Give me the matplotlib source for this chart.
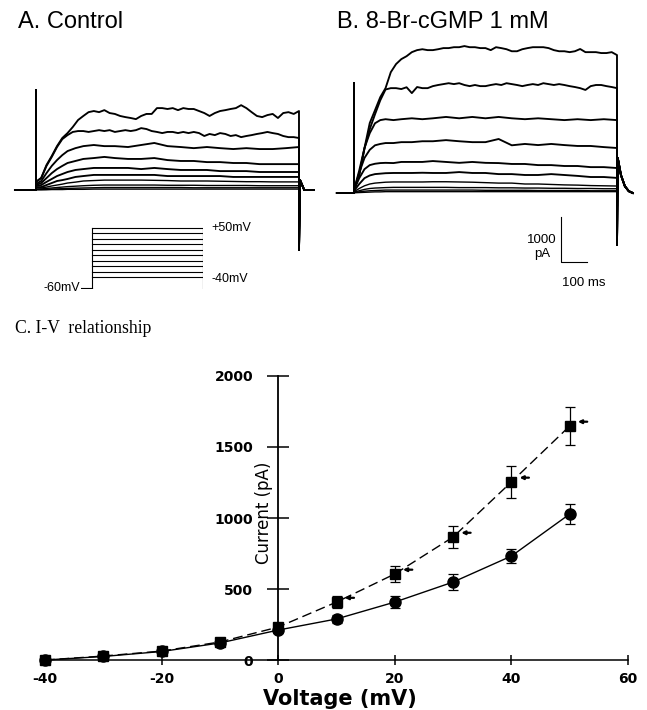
import matplotlib
matplotlib.use('Agg')
import matplotlib.pyplot as plt

plt.rcParams['axes.unicode_minus'] = False

# ---------------- data ----------------
# Current traces (pA) vs time (ms) during 1-s steps, read from panels A and B
T_FINE = list(range(0, 1001, 20))
T_COARSE = [0, 20, 40, 60, 80, 100, 120, 150, 180, 220, 260, 300, 350, 400,
            450, 500, 550, 600, 650, 700, 750, 800, 850, 900, 950, 1000]

ctrl_p50 = [180, 270, 555, 755, 975, 1155, 1265, 1400, 1555, 1645,
            1730, 1755, 1730, 1775, 1710, 1690, 1645, 1620, 1600, 1575,
            1645, 1690, 1690, 1820, 1820, 1800, 1820, 1775, 1820, 1800,
            1800, 1755, 1710, 1645, 1710, 1755, 1775, 1800, 1820, 1885,
            1820, 1730, 1645, 1620, 1665, 1690, 1600, 1710, 1730, 1690, 1755]
ctrl_p40 = [180, 265, 535, 735, 955, 1130, 1220, 1290, 1310, 1310,
            1290, 1310, 1330, 1310, 1330, 1290, 1310, 1330, 1310, 1330,
            1375, 1355, 1310, 1290, 1265, 1290, 1290, 1265, 1290, 1265,
            1290, 1265, 1200, 1245, 1220, 1265, 1245, 1200, 1220, 1175,
            1200, 1220, 1245, 1265, 1290, 1265, 1245, 1200, 1175, 1175, 1155]
ctrl_p30 = [135, 200, 375, 535, 665, 775, 865, 930, 975, 1000, 975, 975, 955,
            1000, 1045, 975, 955, 930, 955, 930, 910, 930, 910, 910, 930, 955]
ctrl_p20 = [110, 155, 265, 375, 465, 535, 600, 645, 690, 710, 735, 710, 690,
            690, 710, 665, 645, 645, 620, 620, 600, 600, 575, 575, 575, 575]
ctrl_p10 = [90, 110, 180, 245, 310, 355, 400, 445, 465, 490, 490, 490, 490,
            465, 490, 465, 445, 445, 445, 420, 420, 420, 400, 400, 400, 400]
ctrl_0 = [65, 65, 110, 155, 200, 220, 245, 290, 310, 335, 335, 335, 335,
          335, 335, 310, 310, 310, 310, 310, 290, 290, 290, 290, 290, 290]
ctrl_m10 = [45, 45, 65, 90, 110, 130, 155, 175, 200, 210, 220, 220, 220,
            220, 215, 210, 200, 200, 200, 195, 190, 185, 185, 180, 180, 180]
ctrl_m20 = [20, 25, 35, 45, 55, 65, 75, 85, 95, 105, 110, 110, 110,
            110, 110, 105, 105, 105, 100, 100, 100, 100, 95, 95, 95, 95]
ctrl_m30 = [10, 10, 15, 20, 25, 30, 35, 40, 45, 50, 55, 55, 55,
            55, 55, 55, 55, 50, 50, 50, 50, 50, 50, 50, 50, 50]
ctrl_m40 = [5, 5, 5, 10, 10, 10, 15, 15, 15, 20, 20, 20, 20,
            20, 20, 20, 20, 20, 20, 20, 20, 20, 20, 20, 20, 20]

cgmp_p50 = [65, 400, 1000, 1555, 1840, 2130, 2330, 2685, 2865, 2975,
            3040, 3130, 3175, 3195, 3175, 3175, 3195, 3220, 3220, 3240,
            3240, 3265, 3240, 3240, 3220, 3220, 3175, 3240, 3220, 3195,
            3150, 3150, 3195, 3220, 3240, 3240, 3240, 3220, 3175, 3150,
            3150, 3130, 3150, 3200, 3130, 3130, 3130, 3110, 3110, 3130, 3065]
cgmp_p40 = [65, 400, 990, 1420, 1750, 2060, 2300, 2330, 2330, 2310,
            2350, 2220, 2355, 2330, 2330, 2375, 2400, 2420, 2440, 2420,
            2440, 2400, 2375, 2400, 2375, 2375, 2400, 2420, 2400, 2440,
            2420, 2400, 2375, 2400, 2420, 2400, 2440, 2420, 2400, 2420,
            2400, 2375, 2355, 2330, 2290, 2375, 2400, 2400, 2375, 2355, 2330]
cgmp_p30 = [65, 500, 1000, 1330, 1550, 1620, 1640, 1620, 1640, 1660, 1640, 1660, 1690,
            1660, 1690, 1660, 1690, 1660, 1640, 1660, 1640, 1620, 1640, 1620, 1640, 1620]
cgmp_p20 = [65, 450, 780, 960, 1060, 1090, 1110, 1110, 1130, 1130, 1150, 1150, 1175,
            1150, 1130, 1130, 1200, 1060, 1090, 1065, 1090, 1065, 1045, 1045, 1020, 1000]
cgmp_p10 = [65, 330, 530, 620, 650, 665, 670, 665, 690, 690, 690, 710, 690,
            670, 690, 670, 665, 645, 645, 620, 620, 600, 600, 575, 575, 555]
cgmp_0 = [45, 200, 330, 390, 420, 430, 440, 445, 445, 445, 450, 445, 445,
          465, 445, 445, 420, 420, 400, 400, 420, 400, 380, 355, 355, 335]
cgmp_m10 = [30, 100, 160, 200, 220, 230, 240, 245, 245, 245, 245, 250, 250,
            245, 240, 230, 220, 220, 200, 200, 190, 180, 175, 165, 160, 155]
cgmp_m20 = [20, 50, 80, 100, 110, 115, 120, 125, 125, 125, 125, 125, 125,
            120, 120, 120, 115, 115, 110, 110, 105, 105, 100, 100, 95, 95]
cgmp_m30 = [10, 25, 40, 50, 55, 60, 65, 65, 65, 65, 65, 65, 65,
            65, 65, 60, 60, 60, 60, 55, 55, 55, 55, 50, 50, 50]
cgmp_m40 = [5, 10, 15, 20, 25, 25, 30, 30, 30, 30, 30, 30, 30,
            30, 30, 30, 30, 30, 30, 30, 30, 30, 30, 30, 30, 30]

# transients
A_PRE_T, A_ON_PEAK = -80, 2220
A_OFF_T = [1000, 1004, 1020, 1057]
A_OFF_I = [-1330, 220, 0, 0]
B_PRE_T, B_ON_PEAK = -65, 2440
B_OFF_T = [1000, 1003, 1015, 1030, 1045, 1060]
B_OFF_I = [-1155, 775, 400, 150, 40, 0]

# voltage protocol
HOLD_MV = -60
STEP_MV = [-40, -30, -20, -10, 0, 10, 20, 30, 40, 50]
PROT_T = [-100, 0, 1000]

# I-V relationship
V_MV = [-40, -30, -20, -10, 0, 10, 20, 30, 40, 50]
ctrl_I = [0, 25, 60, 120, 211, 289, 408, 549, 732, 1028]
ctrl_err = [0, 8, 10, 15, 20, 25, 45, 55, 52, 70]
cgmp_I = [0, 28, 63, 127, 232, 408, 606, 866, 1254, 1648]
cgmp_err = [0, 8, 10, 15, 20, 45, 55, 80, 110, 135]
SIG_V = [10, 20, 30, 40, 50]

X_TICKS = [-40, -20, 0, 20, 40, 60]
Y_TICKS = [0, 500, 1000, 1500, 2000]

# ---------------- figure ----------------
W, H = 647, 710
fig = plt.figure(figsize=(W / 100, H / 100), dpi=100)


def px_axes(x0, y0, x1, y1):
    ax = fig.add_axes([x0 / W, 1 - y1 / H, (x1 - x0) / W, (y1 - y0) / H])
    ax.set_axis_off()
    return ax


def draw_traces(ax, traces, pre_t, peak, off_t, off_i):
    for i, (tt, vals) in enumerate(traces):
        if len(tt) != len(vals):
            raise ValueError('length mismatch in trace %d' % i)
        t = [pre_t, 0, 0] + list(tt) + off_t
        y = [0, 0, peak] + list(vals) + off_i
        lw = 1.35 if i < 6 else 1.0
        ax.plot(t, y, color='black', lw=lw, solid_joinstyle='round')


SANS = 'Liberation Sans'

# Panel A
axA = px_axes(12.3, 73.0, 317.4, 257.5)
axA.set_xlim(-90, 1070)
axA.set_ylim(-1500, 2600)
tracesA = [(T_FINE, ctrl_p50), (T_FINE, ctrl_p40), (T_COARSE, ctrl_p30),
           (T_COARSE, ctrl_p20), (T_COARSE, ctrl_p10), (T_COARSE, ctrl_0),
           (T_COARSE, ctrl_m10), (T_COARSE, ctrl_m20), (T_COARSE, ctrl_m30),
           (T_COARSE, ctrl_m40)]
draw_traces(axA, tracesA, A_PRE_T, A_ON_PEAK, A_OFF_T, A_OFF_I)

# Panel B
axB = px_axes(330.3, 35.5, 635.4, 269.5)
axB.set_xlim(-90, 1070)
axB.set_ylim(-1700, 3500)
tracesB = [(T_FINE, cgmp_p50), (T_FINE, cgmp_p40), (T_COARSE, cgmp_p30),
           (T_COARSE, cgmp_p20), (T_COARSE, cgmp_p10), (T_COARSE, cgmp_0),
           (T_COARSE, cgmp_m10), (T_COARSE, cgmp_m20), (T_COARSE, cgmp_m30),
           (T_COARSE, cgmp_m40)]
draw_traces(axB, tracesB, B_PRE_T, B_ON_PEAK, B_OFF_T, B_OFF_I)

# scale bar (1000 pA, 100 ms)
sb_t, sb_i = 787, -1533
axB.plot([sb_t, sb_t, sb_t + 100], [sb_i + 1000, sb_i, sb_i], color='black',
         lw=0.8, clip_on=False)
axB.text(715, -1110, '1000', ha='center', va='baseline', fontsize=9.5, family=SANS)
axB.text(715, -1420, 'pA', ha='center', va='baseline', fontsize=9.5, family=SANS)
axB.text(791, -2067, '100 ms', ha='left', va='baseline', fontsize=9.5, family=SANS)

# Voltage protocol
axP = px_axes(81, 226.9, 203, 289.1)
axP.set_xlim(-100, 1000)
axP.set_ylim(-62, 52)
axP.plot([PROT_T[0], PROT_T[1]], [HOLD_MV, HOLD_MV], color='black', lw=0.8)
for tv in PROT_T[1:]:
    axP.plot([tv, tv], [HOLD_MV, max(STEP_MV)], color='black', lw=0.8)
for v in STEP_MV:
    axP.plot([PROT_T[1], PROT_T[2]], [v, v], color='black', lw=0.8)
axP.text(1075, max(STEP_MV), '+50mV', ha='left', va='center', fontsize=9, family=SANS)
axP.text(1075, min(STEP_MV) - 4, '-40mV', ha='left', va='center', fontsize=9, family=SANS)
axP.text(-105, HOLD_MV, '-60mV', ha='right', va='center', fontsize=9, family=SANS)

# Titles
fig.text(18 / W, 1 - 28 / H, 'A. Control', fontsize=17, family=SANS, va='baseline')
fig.text(337 / W, 1 - 28 / H, 'B. 8-Br-cGMP 1 mM', fontsize=17, family=SANS,
         va='baseline')
fig.text(15 / W, 1 - 333 / H, 'C. I-V  relationship', fontsize=12.7,
         family='Liberation Serif', va='baseline')

# Panel C: I-V plot
ax = fig.add_axes([33.3 / W, 1 - 665.7 / H, (639.7 - 33.3) / W, (665.7 - 370.3) / H])
ax.set_xlim(-42, 62)
ax.set_ylim(-40, 2040)
ax.patch.set_alpha(0)
for s in ('top', 'right'):
    ax.spines[s].set_visible(False)
ax.spines['left'].set_position(('data', 0))
ax.spines['bottom'].set_position(('data', 0))
ax.spines['left'].set_bounds(0, 2000)
ax.spines['bottom'].set_bounds(-40, 60)
ax.spines['left'].set_linewidth(1.3)
ax.spines['bottom'].set_linewidth(1.1)
ax.set_xticks(X_TICKS)
ax.set_yticks(Y_TICKS)
ax.tick_params(axis='y', direction='inout', length=16, width=1.1, pad=10)
ax.tick_params(axis='x', direction='inout', length=7, width=1.1, pad=5)
for lbl in ax.get_xticklabels() + ax.get_yticklabels():
    lbl.set_fontfamily('DejaVu Sans')
    lbl.set_fontweight('bold')
    lbl.set_fontsize(10)

ax.errorbar(V_MV, cgmp_I, yerr=cgmp_err, fmt='none', ecolor='black',
            elinewidth=0.9, capsize=3.5, capthick=0.9, clip_on=False)
ax.errorbar(V_MV, ctrl_I, yerr=ctrl_err, fmt='none', ecolor='black',
            elinewidth=0.9, capsize=3.5, capthick=0.9, clip_on=False)
ax.plot(V_MV, cgmp_I, color='black', lw=1.0, dashes=(7, 3.5), marker='s',
        ms=7.5, clip_on=False, zorder=3)
ax.plot(V_MV, ctrl_I, color='black', lw=1.0, marker='o', ms=8,
        clip_on=False, zorder=3)
for v in SIG_V:
    i = cgmp_I[V_MV.index(v)]
    ax.annotate('', xy=(v + 1.4, i + 30), xytext=(v + 3.0, i + 30),
                arrowprops=dict(arrowstyle='-|>', lw=1.6, color='black',
                                mutation_scale=5, shrinkA=0, shrinkB=0))

fig.text(340 / W, 1 - 705 / H, 'Voltage (mV)', ha='center', va='baseline',
         fontsize=15, fontweight='bold', family='DejaVu Sans')
fig.text(264 / W, 1 - 513 / H, 'Current (pA)', ha='center', va='center',
         rotation=90, fontsize=12, family=['Liberation Sans Narrow', 'DejaVu Sans'])

fig.savefig('out.png', dpi=100)
